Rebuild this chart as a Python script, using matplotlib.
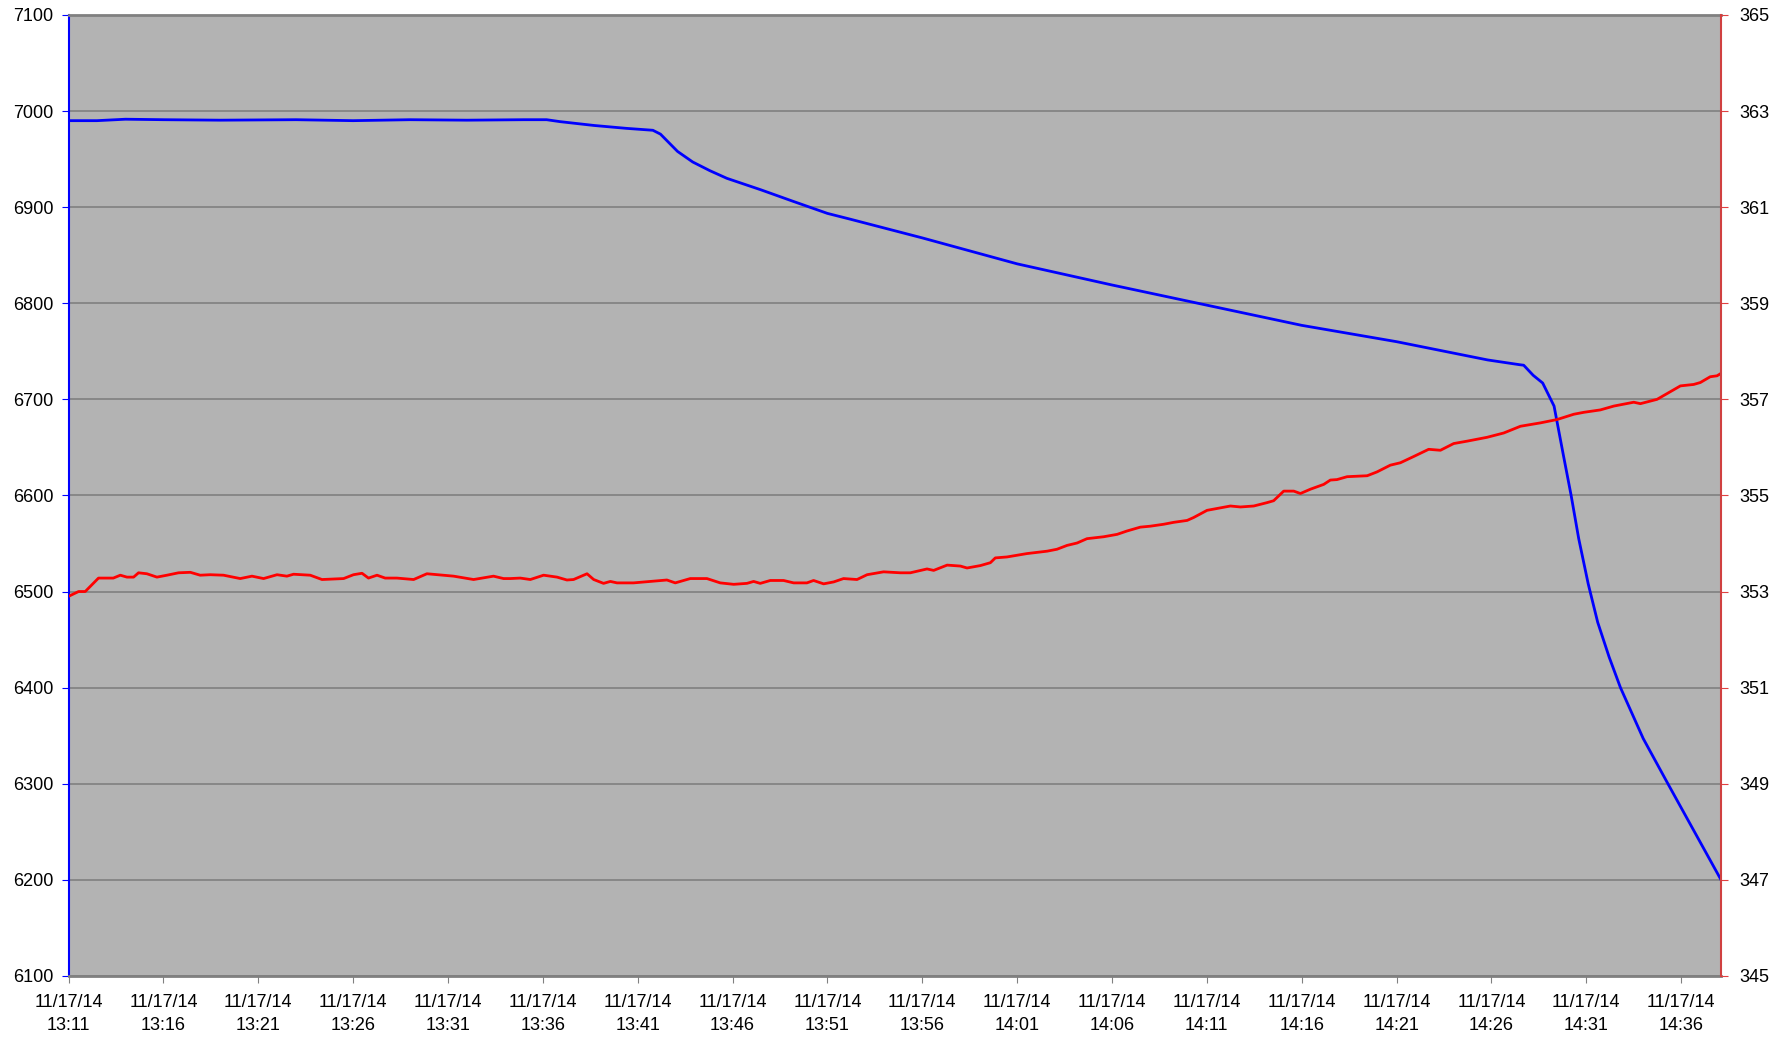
import numpy as np
import pandas as pd
import matplotlib
matplotlib.use('Agg')
import matplotlib.pyplot as plt
import matplotlib.dates as mdates

plt.rcParams['font.family'] = ['Liberation Sans', 'DejaVu Sans']

start = pd.Timestamp('2014-11-17 13:11')

# blue series, left axis (minutes after 13:11, value)
blue_min = [0.0, 1.5, 3.0, 5.0, 8.0, 12.0, 15.0, 18.0, 21.0, 24.0, 25.2,
            25.9, 27.7, 29.4, 30.8, 31.2, 31.6, 32.1, 32.9, 33.8, 34.7, 36.5, 38.2,
            40.0, 41.2, 45.0, 50.0, 55.0, 60.0, 65.0, 70.0, 74.8, 76.5,
            76.7, 77.2, 77.7, 78.3, 78.8, 79.2, 79.6, 80.1, 80.6, 81.2, 81.8,
            83.0, 84.3, 85.7, 87.1]
blue_val = [6990, 6990, 6991.5, 6991, 6990.5, 6991, 6990, 6991, 6990.5, 6991, 6991,
            6989, 6985, 6982, 6980, 6976, 6968, 6958, 6947, 6938, 6930, 6918, 6906,
            6893.5, 6887.5, 6868, 6841, 6819, 6798, 6777, 6760, 6741, 6736,
            6735.5, 6725, 6717, 6693, 6641, 6600, 6555, 6508, 6468, 6432, 6400,
            6347, 6300, 6250, 6200]

# red series, right axis
red_min = [0.0, 0.53, 0.88, 1.58, 2.36, 2.73, 3.08, 3.43, 3.69, 4.13, 4.66,
           5.19, 5.80, 6.42, 6.94, 7.47, 8.17, 9.05, 9.67, 10.28, 10.99,
           11.51, 11.86, 12.74, 13.36, 14.50, 15.02, 15.47, 15.81, 16.26, 16.69,
           17.31, 18.19, 18.89, 19.77, 20.30, 21.35, 22.40, 22.93, 23.28, 23.81,
           24.34, 25.04, 25.75, 26.27, 26.62, 27.33, 27.68, 28.20, 28.56, 28.91,
           29.78, 30.66, 31.54, 31.98, 32.77, 33.65, 34.35, 35.06, 35.76, 36.11,
           36.46, 36.99, 37.69, 38.22, 38.92, 39.27, 39.80, 40.33, 40.85, 41.56,
           42.09, 42.96, 43.84, 44.37, 45.25, 45.60, 46.31, 47.01, 47.36, 48.06,
           48.59, 48.85, 49.47, 50.52, 51.58, 52.10, 52.63, 53.16, 53.68, 54.56,
           55.27, 55.79, 56.49, 57.02, 57.72, 58.25, 58.96, 59.30, 60.01, 60.71,
           61.24, 61.77, 62.47, 63.17, 63.52, 64.05, 64.58, 64.93, 65.46, 66.16,
           66.51, 66.86, 67.39, 68.45, 68.97, 69.67, 70.20, 70.90, 71.69, 72.31,
           73.01, 73.72, 74.77, 75.65, 76.53, 77.58, 78.46, 79.34, 79.87, 80.74,
           81.45, 82.50, 82.85, 83.73, 84.17, 84.96, 85.66, 86.01, 86.53, 86.89,
           87.10]
red_val = [352.90, 353.00, 353.00, 353.28, 353.28, 353.34, 353.30, 353.30, 353.39, 353.37, 353.30,
           353.34, 353.39, 353.40, 353.34, 353.35, 353.34, 353.27, 353.32, 353.27, 353.35,
           353.32, 353.36, 353.34, 353.25, 353.27, 353.35, 353.38, 353.28, 353.34, 353.28,
           353.28, 353.25, 353.37, 353.34, 353.32, 353.25, 353.32, 353.27, 353.27, 353.28,
           353.25, 353.34, 353.30, 353.24, 353.25, 353.37, 353.25, 353.17, 353.21, 353.18,
           353.18, 353.21, 353.24, 353.18, 353.27, 353.27, 353.18, 353.15, 353.17, 353.21,
           353.17, 353.23, 353.23, 353.18, 353.18, 353.23, 353.16, 353.20, 353.27, 353.25,
           353.35, 353.41, 353.39, 353.39, 353.47, 353.44, 353.55, 353.53, 353.49, 353.54,
           353.60, 353.70, 353.72, 353.79, 353.84, 353.88, 353.96, 354.01, 354.10, 354.14,
           354.19, 354.26, 354.34, 354.36, 354.40, 354.44, 354.48, 354.54, 354.69, 354.74,
           354.78, 354.76, 354.78, 354.85, 354.89, 355.09, 355.09, 355.04, 355.13, 355.23,
           355.32, 355.33, 355.39, 355.41, 355.49, 355.63, 355.68, 355.81, 355.96, 355.94,
           356.08, 356.13, 356.21, 356.30, 356.44, 356.51, 356.58, 356.69, 356.73, 356.78,
           356.86, 356.94, 356.91, 357.00, 357.10, 357.28, 357.31, 357.35, 357.47, 357.49,
           357.54]

blue_t = start + pd.to_timedelta(blue_min, unit='min')
red_t = start + pd.to_timedelta(red_min, unit='min')

fig = plt.figure(figsize=(17.89, 10.46), dpi=100)
ax = fig.add_axes([0.0383, 0.067, 0.9237, 0.9187])
ax.set_facecolor('#b3b3b3')
ax2 = ax.twinx()

ax.plot(blue_t, blue_val, color='#0000ff', lw=2.0, zorder=3)
ax2.plot(red_t, red_val, color='#ff0000', lw=2.0)

ax.set_xlim(start, start + pd.Timedelta(minutes=87.1))
ax.set_ylim(6100, 7100)
ax.set_yticks(np.arange(6100, 7101, 100))
ax2.set_ylim(345, 365)
ax2.set_yticks(np.arange(345, 366, 2))

ax.xaxis.set_major_locator(mdates.MinuteLocator(byminute=range(1, 60, 5)))
ax.xaxis.set_major_formatter(mdates.DateFormatter('%m/%d/%y\n%H:%M'))
for lab in ax.get_xticklabels():
    lab.set_linespacing(1.45)

ax.grid(axis='y', color='#808080', lw=1.2)
ax.set_axisbelow(True)

ax.spines['left'].set_color('#0000ff')
ax.spines['left'].set_linewidth(1.5)
ax.spines['top'].set_color('#808080')
ax.spines['top'].set_linewidth(2)
ax.spines['bottom'].set_color('#808080')
ax.spines['bottom'].set_linewidth(2)
ax.spines['right'].set_visible(False)
ax2.spines['right'].set_color('#d04040')
ax2.spines['right'].set_linewidth(1.5)
for s in ['left', 'top', 'bottom']:
    ax2.spines[s].set_visible(False)

ax.tick_params(axis='y', colors='#0000ff', labelcolor='black', labelsize=13, length=5, pad=6)
ax.tick_params(axis='x', colors='#808080', labelcolor='black', labelsize=13, length=5, pad=8)
ax2.tick_params(axis='y', colors='#e04040', labelcolor='black', labelsize=13, length=5, pad=8)

fig.savefig('out.png', dpi=100)
